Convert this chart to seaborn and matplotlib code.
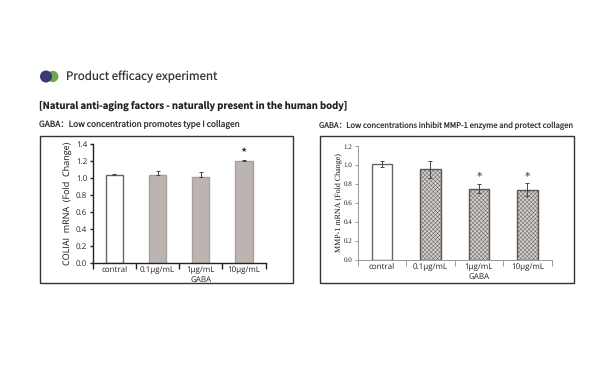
import matplotlib
matplotlib.use("Agg")
import matplotlib.pyplot as plt
import seaborn as sns
import pandas as pd
from matplotlib.patches import Rectangle, Circle
from matplotlib.ticker import FixedLocator, NullFormatter

sns.set_theme(style="white")
plt.rcParams['font.family'] = ['Noto Sans CJK SC', 'DejaVu Sans']
plt.rcParams['text.hinting'] = 'none'
plt.rcParams['text.hinting_factor'] = 1

categories = ["contral", "0.1µg/mL", "1µg/mL", "10µg/mL"]
col_values = [1.03, 1.035, 1.01, 1.20]
col_err = [0.012, 0.05, 0.065, 0.012]
mmp_values = [1.01, 0.955, 0.75, 0.74]
mmp_err = [0.03, 0.09, 0.045, 0.07]
col_ticks = [0, 0.2, 0.4, 0.6, 0.8, 1.0, 1.2, 1.4]
mmp_ticks = [0, 0.2, 0.4, 0.6, 0.8, 1.0, 1.2]
col_star = [3]
mmp_star = [2, 3]

W, H = 600, 370
fig = plt.figure(figsize=(6, 3.7), dpi=100, facecolor="white")

def axbox(x0, x1, ytop, ybot):
    return fig.add_axes([x0 / W, 1 - ybot / H, (x1 - x0) / W, (ybot - ytop) / H])

def frame(x0, x1, ytop, ybot):
    fig.add_artist(Rectangle((x0 / W, 1 - ybot / H), (x1 - x0) / W, (ybot - ytop) / H,
                             transform=fig.transFigure, fill=False, ec="#333333", lw=1.0))

# Header
fig.add_artist(Circle((52.8, H - 76.5), 5.6, transform=None, fc="#6fa84a", ec="none"))
fig.add_artist(Circle((46, H - 76.5), 6, transform=None, fc="#3a3a78", ec="none"))
fig.text(65.5 / W, 1 - 77 / H, "Product efficacy experiment", fontsize=8.3, color="#333333", va="center")
fig.text(39 / W, 1 - 106 / H, "[Natural anti-aging factors - naturally present in the human body]",
         fontsize=6.88, fontweight="bold", color="#222222", va="center")
fig.text(39 / W, 1 - 125.5 / H, "GABA：Low concentration promotes type I collagen", fontsize=6.0, color="#333333", va="center")
fig.text(319 / W, 1 - 125.5 / H, "GABA：Low concentrations inhibit MMP-1 enzyme and protect collagen", fontsize=5.53, color="#333333", va="center")

frame(40, 293, 136, 283)
frame(320, 574, 136.5, 282.5)

def panel(ax, vals, errs, ticks, top, color, hatch, axc, width, lower, lw, family, ylabel, ylab_fs, tick_fs, stars, star_y, star_txt, star_fs, capsize, ylab_pad, edge, gaba_y):
    df = pd.DataFrame({"cat": categories, "val": vals})
    sns.barplot(data=df, x="cat", y="val", ax=ax, width=width, color=color, saturation=1, errorbar=None, zorder=2)
    for i, b in enumerate(ax.patches):
        b.set_linewidth(1.0)
        if i == 0:
            b.set_facecolor("white"); b.set_edgecolor("#666666")
        else:
            b.set_edgecolor(edge)
            if hatch:
                b.set_hatch(hatch)
    yerr = [errs if lower else [0] * 4, errs]
    ax.errorbar(range(4), vals, yerr=yerr, fmt="none", ecolor="#444444", elinewidth=0.7, capsize=capsize, capthick=0.7, zorder=3)
    ax.set_xlim(-0.5, 3.5)
    ax.set_ylim(0, top)
    ax.set_yticks(ticks)
    ax.set_yticklabels([f"{t:.1f}" for t in ticks], fontsize=tick_fs, color="#222222", family=family)
    ax.set_xticks(range(4))
    ax.set_xticklabels(categories, fontsize=5.7, color="#222222", family=['Open Sans', 'DejaVu Sans'])
    ax.xaxis.set_minor_locator(FixedLocator([-0.5, 0.5, 1.5, 2.5, 3.5]))
    ax.xaxis.set_minor_formatter(NullFormatter())
    ax.tick_params(axis="x", which="major", length=0, pad=2.5)
    ax.tick_params(axis="x", which="minor", length=4, width=lw, color=axc, bottom=True)
    ax.tick_params(axis="y", length=2.5, width=lw, color=axc, pad=1.5, left=True)
    for s in ("top", "right"):
        ax.spines[s].set_visible(False)
    for s in ("left", "bottom"):
        ax.spines[s].set_color(axc); ax.spines[s].set_linewidth(lw)
    ax.set_xlabel("")
    ax.set_ylabel(ylabel, fontsize=ylab_fs, color="#111111", family=family, labelpad=ylab_pad)
    ax.patch.set_alpha(0)
    for i in stars:
        ax.text(i, star_y[i], star_txt, ha="center", va="center", fontsize=star_fs, color="#333333", family="DejaVu Sans")
    ax.text(2, gaba_y, "GABA", transform=ax.get_xaxis_transform(), ha="center", va="top", fontsize=5.7,
            color="#222222", family=['Open Sans', 'DejaVu Sans'])

ax1 = axbox(92.7, 265.7, 144, 262.7)
panel(ax1, col_values, col_err, col_ticks, 1.4, "#bcb4b0", None, "#222222", 0.4, False, 1.0,
      ['Open Sans', 'DejaVu Sans'], "COLIAI  mRNA  (Fold  Change)", 6.2, 5.5, col_star,
      {3: 1.33}, "★", 5, 1.5, 2, "#a8a09c", -0.11)

plt.rcParams['hatch.linewidth'] = 0.3
plt.rcParams['hatch.color'] = "#8a8280"
ax2 = axbox(357.7, 551.7, 146, 259.7)
panel(ax2, mmp_values, mmp_err, mmp_ticks, 1.2, "#d2cecc", "xxxxxxxx", "#999999", 0.42, True, 0.7,
      ['Liberation Serif', 'DejaVu Serif'], "MMP-1 mRNA (Fold Change)", 5.8, 5.3, mmp_star,
      {2: 0.875, 3: 0.875}, "*", 8, 1.5, 0.5, "#5c5553", -0.115)

fig.savefig("out.png", dpi=100, facecolor="white")
